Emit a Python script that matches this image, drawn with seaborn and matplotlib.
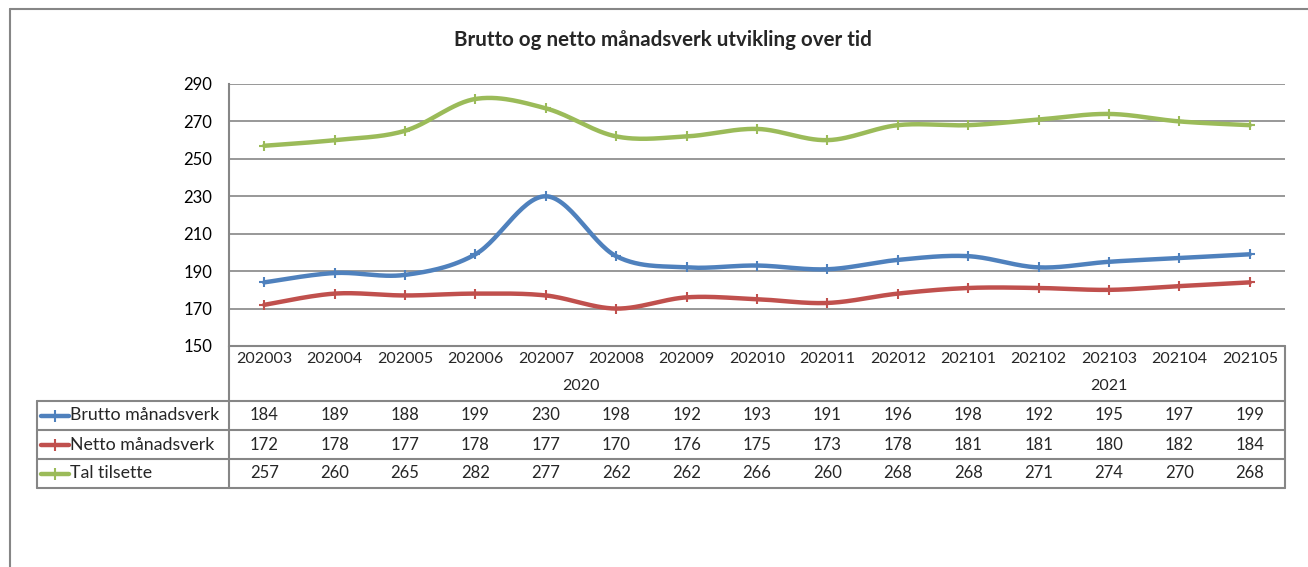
import numpy as np
import pandas as pd
import matplotlib
matplotlib.use("Agg")
import matplotlib.pyplot as plt
from matplotlib.lines import Line2D
import matplotlib.transforms as mtransforms
import seaborn as sns

months = ["202003", "202004", "202005", "202006", "202007", "202008", "202009",
          "202010", "202011", "202012", "202101", "202102", "202103", "202104", "202105"]
years = ["2020", "2021"]
series_names = ["Brutto månadsverk", "Netto månadsverk", "Tal tilsette"]
brutto = [184, 189, 188, 199, 230, 198, 192, 193, 191, 196, 198, 192, 195, 197, 199]
netto = [172, 178, 177, 178, 177, 170, 176, 175, 173, 178, 181, 181, 180, 182, 184]
tilsette = [257, 260, 265, 282, 277, 262, 262, 266, 260, 268, 268, 271, 274, 270, 268]
colors = ["#4F81BD", "#C0504D", "#9BBB59"]
title = "Brutto og netto månadsverk utvikling over tid"

sns.set_style("white")
plt.rcParams['font.family'] = ['Lato', 'DejaVu Sans']

W, H = 1308, 567
fig = plt.figure(figsize=(W / 100, H / 100), dpi=100)

def fx(px):
    return px / W

def fy(py):
    return 1 - py / H

ax_l, ax_r, ax_t, ax_b = 229, 1285, 84, 346
ax = fig.add_axes([fx(ax_l), fy(ax_b), fx(ax_r) - fx(ax_l), fy(ax_t) - fy(ax_b)])

grey = "#868686"

# smoothed curves (Catmull-Rom, like Excel smoothed lines), drawn via seaborn
def smooth(vals, n=30):
    y = np.asarray(vals, dtype=float)
    x = np.arange(len(y), dtype=float)
    P = np.column_stack([x, y])
    P = np.vstack([P[0], P, P[-1]])
    out = []
    for i in range(1, len(P) - 2):
        p0, p1, p2, p3 = P[i - 1], P[i], P[i + 1], P[i + 2]
        c1 = p1 + (p2 - p0) / 6
        c2 = p2 - (p3 - p1) / 6
        t = np.linspace(0, 1, n, endpoint=(i == len(P) - 3))[:, None]
        seg = (1 - t) ** 3 * p1 + 3 * (1 - t) ** 2 * t * c1 + 3 * (1 - t) * t ** 2 * c2 + t ** 3 * p2
        out.append(seg)
    return np.vstack(out)

rows = []
pts = []
for name, vals in zip(series_names, [brutto, netto, tilsette]):
    s = smooth(vals)
    for k, (xx, yy) in enumerate(s):
        rows.append({"x": xx, "y": yy, "serie": name, "order": k})
    for i, v in enumerate(vals):
        pts.append({"x": i, "y": v, "serie": name})
df = pd.DataFrame(rows)
dp = pd.DataFrame(pts)
palette = dict(zip(series_names, colors))

sns.lineplot(data=df, x="x", y="y", hue="serie", palette=palette, sort=False,
             estimator=None, linewidth=3.2, legend=False, ax=ax, zorder=3)
for name in series_names:
    sub = dp[dp.serie == name]
    ax.scatter(sub.x, sub.y, marker="+", s=55, color=palette[name], linewidths=1.5, zorder=4)

ax.set_xlim(-0.5, len(months) - 0.5)
ax.set_ylim(150, 290)
ax.set_yticks(np.arange(150, 291, 20))
ax.yaxis.grid(True, color=grey, linewidth=1.2)
ax.xaxis.grid(False)
ax.set_xticks([])
ax.set_xlabel("")
ax.set_ylabel("")
ax.tick_params(axis="y", length=0, pad=12, labelsize=12, labelcolor="#000000")
for side in ["top", "right", "bottom"]:
    ax.spines[side].set_visible(False)
ax.spines["left"].set_color(grey)
ax.spines["left"].set_linewidth(1.5)

# title
fig.text(fx(663), fy(40), title, ha="center", va="center", fontsize=14.8, fontweight="bold")

# table
trans = mtransforms.blended_transform_factory(ax.transData, fig.transFigure)

def hline(x0, x1, y, lw=1.5):
    fig.add_artist(Line2D([fx(x0), fx(x1)], [fy(y), fy(y)], color=grey, lw=lw))

def vline(x, y0, y1, lw=1.5):
    fig.add_artist(Line2D([fx(x), fx(x)], [fy(y0), fy(y1)], color=grey, lw=lw))

hline(ax_l, ax_r, 346)
row_lines = [401, 430, 459, 488]
for y in row_lines:
    hline(37, ax_r, y)
vline(ax_l, 346, 488)
vline(ax_r, 346, 488)
vline(37, 401, 488)

# outer chart frame
hline(10, W, 9)
vline(10, 9, H)

for i, m in enumerate(months):
    ax.text(i, fy(359), m, transform=trans, ha="center", va="center", fontsize=11.5)

year_idx = [[i for i, m in enumerate(months) if m.startswith(y)] for y in years]
for y, idx in zip(years, year_idx):
    ax.text((idx[0] + idx[-1]) / 2, fy(386), y, transform=trans, ha="center", va="center", fontsize=11.5)

for r, (name, vals, c) in enumerate(zip(series_names, [brutto, netto, tilsette], colors)):
    yc = (row_lines[r] + row_lines[r + 1]) / 2
    fig.add_artist(Line2D([fx(41), fx(69)], [fy(yc), fy(yc)], color=c, lw=3.2))
    fig.add_artist(Line2D([fx(55)], [fy(yc)], color=c, marker="+", ms=8, mew=1.5))
    fig.text(fx(70), fy(yc), name, ha="left", va="center", fontsize=12.8)
    for i, v in enumerate(vals):
        ax.text(i, fy(yc), str(v), transform=trans, ha="center", va="center", fontsize=12)

fig.savefig("out.png", dpi=100)
